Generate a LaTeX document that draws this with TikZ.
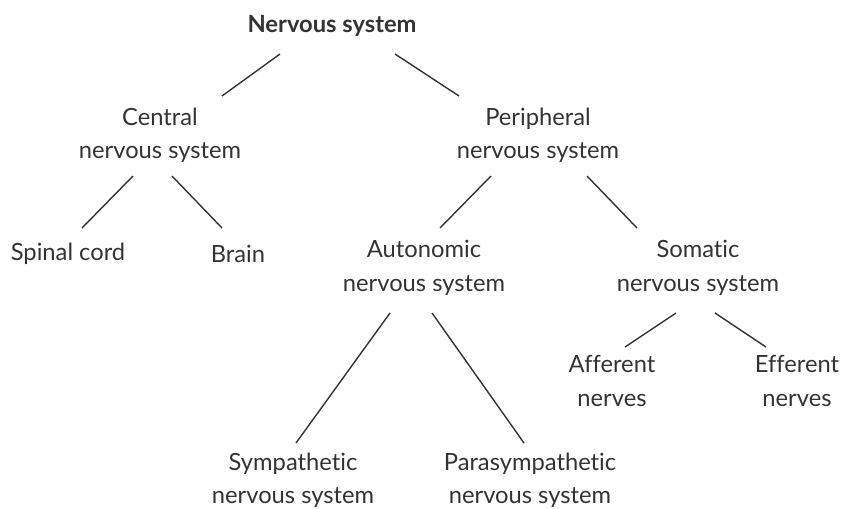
\documentclass[tikz,border=0pt]{standalone}
\usepackage{fontspec}
\setmainfont[Ligatures=NoCommon]{Lato}
\begin{document}
\begin{tikzpicture}[x=0.02cm,y=-0.02cm,
  lbl/.style={align=center,text=black!80,font=\fontsize{13.5}{19}\selectfont},
  hd/.style={lbl,font=\fontsize{13.5}{19}\selectfont\bfseries},
  br/.style={draw=black!80,line width=0.8pt}]
\useasboundingbox (0,0) rectangle (848,508);
\node[hd] (NS) at (332,26) {Nervous system};
\node[lbl] (CNS) at (160,135) {Central\\nervous system};
\node[lbl] (PNS) at (538,135) {Peripheral\\nervous system};
\node[lbl] (SC) at (68,254) {Spinal cord};
\node[lbl] (BR) at (238,254) {Brain};
\node[lbl] (ANS) at (424,268) {Autonomic\\nervous system};
\node[lbl] (SNS) at (698,268) {Somatic\\nervous system};
\node[lbl] (AF) at (612,381) {Afferent\\nerves};
\node[lbl] (EF) at (797,381) {Efferent\\nerves};
\node[lbl] (SY) at (293,480) {Sympathetic\\nervous system};
\node[lbl] (PA) at (530,480) {Parasympathetic\\nervous system};
\draw[br] ([shift={(-52,28)}]NS.center) -- ([shift={(62,-39)}]CNS.center);
\draw[br] ([shift={(63,28)}]NS.center) -- ([shift={(-79,-39)}]PNS.center);
\draw[br] ([shift={(-27,41)}]CNS.center) -- ([shift={(14,-26)}]SC.center);
\draw[br] ([shift={(12,41)}]CNS.center) -- ([shift={(-16,-26)}]BR.center);
\draw[br] ([shift={(-47,41)}]PNS.center) -- ([shift={(16,-40)}]ANS.center);
\draw[br] ([shift={(49,41)}]PNS.center) -- ([shift={(-61,-40)}]SNS.center);
\draw[br] ([shift={(-34,45)}]ANS.center) -- ([shift={(3,-37)}]SY.center);
\draw[br] ([shift={(8,45)}]ANS.center) -- ([shift={(-6,-37)}]PA.center);
\draw[br] ([shift={(-22,45)}]SNS.center) -- ([shift={(13,-34)}]AF.center);
\draw[br] ([shift={(17,45)}]SNS.center) -- ([shift={(-31,-34)}]EF.center);
\end{tikzpicture}
\end{document}
